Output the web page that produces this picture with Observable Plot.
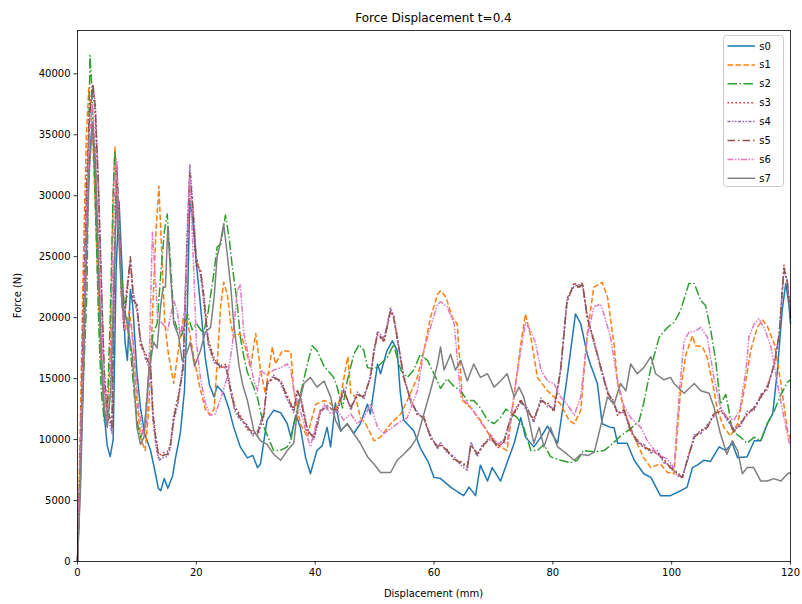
<!DOCTYPE html>
<html><head><meta charset="utf-8">
<script src="https://cdn.jsdelivr.net/npm/d3@7"></script>
<script src="https://cdn.jsdelivr.net/npm/@observablehq/plot@0.6"></script>
<style>body{margin:0;background:#fff}#chart{width:802px;height:604px}</style>
</head><body><div id="chart"></div>
<script>
const seriesNames = ["s0","s1","s2","s3","s4","s5","s6","s7"];
const xTicks = [0,20,40,60,80,100,120];
const yTicks = [0,5000,10000,15000,20000,25000,30000,35000,40000];

const s0 = [[0,0],[0.5,7000],[1,17000],[1.5,27000],[2,33000],[2.5,36000],[3,31000],[3.5,24000],[4,17000],[4.5,12000],[5,9500],[5.5,8600],[6,10000],[6.5,24000],[7,29500],[7.5,24000],[8,18000],[8.4,16500],[8.9,22300],[9.3,21000],[10,15500],[10.6,12600],[11.3,10500],[12.3,9100],[13,7500],[13.6,6000],[14,5800],[14.6,6800],[15.2,6000],[16,7000],[16.5,8500],[17.3,10500],[18,14000],[18.5,21000],[18.9,29700],[19.5,27500],[20,24500],[20.7,21000],[21.5,16700],[22.2,14500],[23,13500],[23.5,14400],[24.6,13800],[25.5,12500],[26.3,11000],[27.4,9400],[28.6,8500],[29.5,8700],[30.3,7700],[30.8,8000],[31.9,11600],[33,12400],[34.2,12200],[35.3,11300],[35.9,10200],[36.8,12000],[37.5,11000],[38.4,8500],[39.2,7200],[40.3,9100],[41.2,9500],[42,11000],[42.6,9400],[43.4,13000],[44.3,10700],[45.4,11300],[46.5,10500],[47.6,11300],[48.8,12900],[49.3,12100],[50.5,16200],[51,15400],[52.1,17300],[53,18100],[53.8,17300],[54.3,14000],[54.9,11600],[56.6,10700],[57.7,9300],[59,8200],[60,6900],[61.1,6800],[62.8,6100],[64,5700],[65,5400],[65.9,6100],[67,5400],[67.8,7900],[69,6600],[69.8,7700],[71.2,6600],[72.6,8500],[73.5,9700],[74.6,11800],[75.4,10200],[76.8,9400],[78,10200],[79.1,11100],[80.2,10200],[80.8,9700],[81.3,11300],[82.4,15100],[83.3,18400],[83.8,20300],[84.7,19500],[85.8,17000],[86.3,16200],[87.5,14600],[88.3,11300],[89.7,11000],[90.3,11000],[90.9,9700],[92.5,9700],[93.7,8300],[95.3,7200],[96.5,6900],[98.1,5400],[99.8,5400],[101.5,5800],[102.6,6100],[103.5,7700],[104.3,7900],[105.4,8300],[106.5,8200],[108,9400],[109.1,9100],[110.2,9700],[111.1,8500],[112.7,8600],[113.9,9900],[115,9900],[116.1,11300],[117,12100],[117.8,15700],[118.6,20600],[119.2,22800],[119.7,21200],[120,19500]];

const s1 = [[0,0],[0.5,12000],[1,25000],[1.5,35000],[1.9,38800],[2.5,35500],[3,29000],[3.5,22000],[4,16000],[4.5,12500],[5,11500],[5.5,17000],[6,30000],[6.3,34000],[7,27000],[7.5,22000],[8,19000],[8.7,20500],[9.3,18500],[10,13000],[10.7,10000],[11.4,9100],[12,12500],[12.6,20000],[13.2,27000],[13.7,30800],[14.2,25000],[14.7,19500],[15.3,17000],[16.2,14600],[17,17500],[17.9,20300],[18.6,19500],[19.5,17000],[20.5,14500],[21.5,12500],[22.3,12000],[23,12500],[23.6,17000],[24.1,21000],[24.6,22900],[25.2,22000],[25.8,19500],[26.3,18400],[27.4,18700],[28.3,17500],[29.1,15900],[30,18700],[30.8,15700],[31.6,13800],[32.8,17600],[33.3,16200],[34.5,17300],[35.9,17200],[36.4,14000],[37.5,11300],[38.7,10200],[39.2,11300],[40.1,12900],[41.5,13200],[42.5,13000],[43.5,12500],[44.3,13500],[45,15500],[45.5,16800],[46,13800],[46.8,13500],[47.6,11800],[48.5,11300],[49.9,9900],[51,10200],[52.7,11300],[54.4,12100],[55.5,13200],[57.2,15100],[58.3,17300],[59.4,20000],[60.6,21900],[61.1,22200],[62,21700],[63.1,20000],[63.9,19500],[64.8,13200],[66.2,12600],[67.8,11600],[69.5,10200],[71.2,9400],[72.3,9100],[73.5,13700],[74.6,17800],[75.4,20300],[76.3,18400],[77.4,15100],[79.1,14000],[80.2,13500],[81.3,12900],[82.7,11600],[83.6,11300],[84.7,12400],[85.8,18700],[86.9,22500],[88.3,22900],[89.2,21700],[90.3,17800],[90.9,14600],[92,12400],[93.7,10200],[95.3,8500],[96.5,7700],[98.1,8000],[99.3,7300],[100.4,7200],[101.5,14000],[102.4,17000],[103.5,18500],[104,17700],[105.2,17600],[106,16700],[106.9,14600],[107.7,12400],[108.8,11000],[109.9,10300],[111.1,11300],[112.2,14000],[113.3,17300],[114.4,19200],[115.3,19800],[116.1,19300],[117.3,17800],[118.4,14600],[119.5,10700],[120,10000]];

const s2 = [[0,0],[0.2,3100],[0.5,8000],[1,15000],[1.6,22200],[1.9,35000],[2.1,41500],[2.4,39000],[2.8,33000],[3.2,26000],[3.6,19000],[4,14000],[4.5,11500],[5,12000],[5.5,20000],[6,30000],[6.3,33700],[6.8,29000],[7.3,24000],[8,20500],[8.8,18000],[9.5,14000],[10,11500],[10.6,10200],[11.3,11000],[12,15500],[12.7,18700],[13.4,19500],[14,23500],[14.6,27000],[15.1,28500],[15.6,25000],[16.2,20000],[16.8,19000],[17.5,18500],[18.5,20300],[19.3,19000],[20,19500],[21.2,18700],[22,20500],[23,23800],[23.5,25800],[24.1,26000],[24.9,28400],[25.5,26600],[26,24400],[26.9,21100],[27.4,18400],[28,16800],[28.6,15500],[29.5,14500],[30.3,13400],[31.4,11000],[33,9100],[34.1,9100],[35.3,9400],[35.9,9900],[36.4,11300],[37.5,13700],[38.7,16200],[39.5,17700],[40.3,17300],[41.5,16000],[42.6,15400],[43.1,15100],[43.7,14300],[44.6,12600],[45.4,14800],[46.5,17000],[47.4,17800],[48.2,17300],[48.8,15900],[50,15800],[51,16200],[52.1,16700],[53.2,17800],[54.4,15700],[55.5,15100],[56.6,15700],[57.7,17000],[58.9,16500],[60,15400],[61.1,14200],[62.2,15000],[63.3,14400],[64.5,14000],[65.6,13200],[66.7,13200],[67.8,12600],[69,11600],[70.1,11300],[71.2,11800],[72.1,12500],[73,12200],[74,11800],[75.1,11000],[76.3,9100],[77.4,9100],[78.5,9600],[79.6,8600],[81.3,8300],[83,8100],[84.1,8300],[85.2,9100],[86.9,9000],[88.6,9100],[89.7,9500],[91.4,10300],[93.1,10900],[94.5,11500],[95.3,13000],[96.5,15900],[97.9,18400],[99.3,19200],[100.4,19600],[101.5,20600],[102.9,22800],[103.8,22800],[104.9,21400],[105.7,21000],[106.6,18900],[107.4,16500],[108.2,12900],[109.1,13700],[109.6,12500],[110.2,10700],[111.6,10200],[112.7,9700],[113.9,10200],[115,9900],[116.1,11300],[117.3,12400],[118.4,13700],[119.5,14700],[120,14900]];

const s3 = [[0,0],[0.5,9500],[1,20500],[1.5,30500],[2,37000],[2.6,38800],[3,36500],[3.5,30500],[4,22500],[4.5,15800],[5,12300],[5.4,11800],[5.8,11200],[6.2,24500],[6.6,32000],[7,27500],[7.4,21800],[7.8,19500],[8.3,21800],[8.9,24800],[9.4,21200],[10,21200],[10.6,17700],[11.5,17000],[12.3,16200],[12.7,12300],[13.2,10200],[13.7,8700],[14.3,8900],[15.1,9000],[15.6,9500],[16.2,12000],[17,13700],[17.8,15800],[18.3,23500],[18.9,31400],[19.4,28700],[20,24200],[20.7,24000],[21.2,22200],[22,18200],[23,16700],[24,15800],[25,16200],[25.8,14200],[26.5,12700],[27.4,12000],[28.6,10800],[29.5,10700],[30.3,10300],[31.4,12000],[31.9,14700],[33,15000],[34.2,14900],[35.3,13600],[36.4,12500],[37,14100],[37.5,13400],[38.7,10600],[39.8,10300],[40.9,12500],[42,12500],[43.7,12500],[44.8,13900],[46,12700],[47.1,13600],[48.2,13600],[49.3,15000],[49.9,17400],[50.5,18600],[51.6,18000],[52.7,20500],[53.2,20100],[53.8,18500],[54.9,15000],[56.1,13300],[57.2,12000],[58.3,11900],[59.4,10100],[60.6,9500],[61.1,9500],[62.2,9200],[63.4,8300],[64.5,8200],[65.6,7800],[66.2,9500],[67.3,8900],[68.1,9300],[69.5,10300],[70.7,9300],[71.8,9900],[72.9,11700],[74,12500],[74.6,13300],[75.7,12300],[76.8,11700],[78,13100],[79.1,13000],[80.2,12300],[81.3,15800],[82.4,21300],[83.6,22900],[84.4,22400],[85,22900],[85.8,19900],[86.9,18200],[88,15900],[89.2,13900],[90.3,13100],[90.9,12000],[92,12500],[93.1,10600],[94.2,10000],[95.3,9300],[96.5,9200],[97.6,8800],[98.7,8400],[99.8,7600],[101,7300],[101.8,6800],[102.6,8400],[103.8,10100],[104.9,10800],[106,10900],[107.1,12200],[108.2,12300],[109.3,11900],[110.5,10600],[111.6,11400],[112.7,12000],[113.9,12700],[115,13400],[116.1,14400],[117.3,16100],[118.1,18800],[118.9,24300],[119.5,22600],[120,20100]];

const s4 = [[0,0],[0.5,8500],[1,19500],[1.5,29500],[2,36000],[2.6,39000],[3,37500],[3.5,31500],[4,23500],[4.5,15000],[5,11800],[5.4,11500],[5.8,10500],[6.2,23000],[6.6,32800],[7,28500],[7.4,22500],[7.8,19000],[8.3,22500],[8.9,24500],[9.4,22000],[10,20500],[10.6,18300],[11.5,16500],[12.3,15700],[12.7,11500],[13.2,9500],[13.7,8300],[14.3,8500],[15.1,8600],[15.6,9200],[16.2,11500],[17,13200],[17.8,16500],[18.3,25000],[18.9,32600],[19.4,29500],[20,25000],[20.7,23500],[21.2,21500],[22,17800],[23,16300],[24,16200],[25,15800],[25.8,13800],[26.5,12300],[27.4,11600],[28.6,11200],[29.5,10300],[30.3,10700],[31.4,12300],[31.9,14400],[33,15300],[34.2,14600],[35.3,13300],[36.4,12200],[37,13800],[37.5,13700],[38.7,10900],[39.8,10000],[40.9,12200],[42,12800],[43.7,12200],[44.8,14200],[46,12400],[47.1,13900],[48.2,13300],[49.3,15300],[49.9,17000],[50.5,18900],[51.6,18300],[52.7,20800],[53.2,20200],[53.8,18200],[54.9,15300],[56.1,13000],[57.2,12300],[58.3,11600],[59.4,10400],[60.6,9200],[61.1,9800],[62.2,8900],[63.4,8600],[64.5,7900],[65.6,7500],[66.2,9800],[67.3,8600],[68.1,9600],[69.5,10000],[70.7,9600],[71.8,10000],[72.9,11600],[74,12800],[74.6,13000],[75.7,12600],[76.8,11400],[78,13400],[79.1,12700],[80.2,12600],[81.3,15500],[82.4,21600],[83.6,22600],[84.4,22700],[85,22600],[85.8,20200],[86.9,17900],[88,16200],[89.2,14000],[90.3,12800],[90.9,12300],[92,12200],[93.1,10900],[94.2,9700],[95.3,9600],[96.5,8900],[97.6,9100],[98.7,8100],[99.8,7900],[101,7000],[101.8,7100],[102.6,8100],[103.8,10400],[104.9,10500],[106,11200],[107.1,11900],[108.2,12600],[109.3,11600],[110.5,10900],[111.6,11100],[112.7,12300],[113.9,12400],[115,13700],[116.1,14100],[117.3,16400],[118.1,18500],[118.9,23800],[119.5,23000],[120,19800]];

const s5 = [[0,0],[0.5,9000],[1,20000],[1.5,30000],[2,36500],[2.6,39200],[3,37000],[3.5,31000],[4,23000],[4.5,15500],[5,12000],[5.3,12100],[5.8,11000],[6.2,24000],[6.6,32500],[7,28000],[7.4,22000],[7.8,19200],[8.3,22000],[8.9,25000],[9.4,21500],[10,21000],[10.6,18000],[11.5,16800],[12.3,16000],[12.7,12000],[13.2,10000],[13.7,8500],[14.3,8700],[15.1,8800],[15.6,9400],[16.2,11800],[17,13500],[17.8,16000],[18.3,24000],[18.9,31800],[19.4,29000],[20,24500],[20.7,23800],[21.2,22000],[22,18000],[23,16500],[24,16000],[25,16000],[25.8,14000],[26.5,12500],[27.4,11800],[28.6,11000],[29.5,10500],[30.3,10500],[31.4,12100],[31.9,14600],[33,15100],[34.2,14800],[35.3,13500],[36.4,12400],[37,14000],[37.5,13500],[38.7,10700],[39.8,10200],[40.9,12400],[42,12600],[43.7,12400],[44.8,14000],[46,12600],[47.1,13700],[48.2,13500],[49.3,15100],[49.9,17300],[50.5,18700],[51.6,18100],[52.7,20600],[53.2,20000],[53.8,18400],[54.9,15100],[56.1,13200],[57.2,12100],[58.3,11800],[59.4,10200],[60.6,9400],[61.1,9600],[62.2,9100],[63.4,8400],[64.5,8100],[65.6,7700],[66.2,9600],[67.3,8800],[68.1,9400],[69.5,10200],[70.7,9400],[71.8,9800],[72.9,11800],[74,12600],[74.6,13200],[75.7,12400],[76.8,11600],[78,13200],[79.1,12900],[80.2,12400],[81.3,15700],[82.4,21400],[83.6,22800],[84.4,22500],[85,22800],[85.8,20000],[86.9,18100],[88,16000],[89.2,13800],[90.3,13000],[90.9,12100],[92,12400],[93.1,10700],[94.2,9900],[95.3,9400],[96.5,9100],[97.6,8900],[98.7,8300],[99.8,7700],[101,7200],[101.8,6900],[102.6,8300],[103.8,10200],[104.9,10700],[106,11000],[107.1,12100],[108.2,12400],[109.3,11800],[110.5,10700],[111.6,11300],[112.7,12100],[113.9,12600],[115,13500],[116.1,14300],[117.3,16200],[118.1,18700],[118.9,24100],[119.5,22800],[120,20000]];

const s6 = [[0,0],[0.5,9000],[1,18000],[1.5,28000],[2,35000],[2.5,37500],[3,34000],[3.5,27000],[4,20000],[4.5,14000],[5,11500],[5.5,13500],[6,27000],[6.5,33000],[7,27000],[7.5,21000],[8,19000],[9,19500],[9.7,16000],[10.3,12500],[11,10500],[11.6,11000],[12.1,17000],[12.6,27000],[13,24000],[13.5,20000],[14.3,19500],[15.2,19000],[16.2,21400],[16.8,20500],[17.3,18500],[18,20000],[18.5,26000],[18.9,31500],[19.4,26000],[20,18000],[20.7,15000],[21.5,13000],[22.3,12000],[23.2,12100],[24.2,13500],[25.2,15100],[26,17500],[26.9,22200],[27.4,22700],[28,18700],[28.6,17300],[29.7,14800],[30.3,14000],[30.8,15700],[31.8,15300],[33,15700],[34.2,15900],[35.3,16200],[35.9,15700],[36.4,14000],[37.5,12400],[38.7,10200],[39.2,9400],[40.3,11600],[41.5,12900],[42.6,12100],[43.7,12400],[44.8,11600],[46,12100],[47.1,11300],[48.2,11800],[49.3,12900],[50.5,11000],[51.6,10500],[53,11000],[54.4,11500],[55.5,11800],[57.2,14000],[58.3,17300],[59.4,19200],[60.6,21100],[61.1,21300],[62.2,20900],[63.4,19500],[64.5,13500],[66.2,12700],[67.3,11800],[69,10700],[70.7,9700],[72.3,9700],[73.5,13800],[74.6,17300],[75.4,19600],[76.3,18900],[77.1,17900],[78,15700],[79.1,14800],[80.2,14600],[81.3,13500],[82.4,12900],[83.6,12000],[84.7,13500],[85.8,18400],[86.9,20900],[88,21100],[88.6,20300],[89.7,18400],[90.9,14800],[92,12700],[93.1,11800],[94.8,11000],[95.9,9900],[97.6,8800],[99.3,8400],[100.4,7700],[101.3,14000],[102.1,18100],[102.9,18800],[104,18900],[104.9,19200],[106,18400],[107.1,15100],[108.2,12700],[109.3,11800],[110.5,11600],[111.5,12500],[112.5,15700],[113,18400],[113.9,19500],[114.7,19900],[115.8,18900],[116.7,17600],[117.8,14600],[118.9,11800],[119.7,9900],[120,9500]];

const s7 = [[0,0],[0.5,6000],[1,15000],[1.5,25000],[2,32000],[2.5,36000],[3,33000],[3.5,25000],[4,17000],[4.5,12500],[5,11000],[5.6,14000],[6.1,22500],[6.6,30000],[7,26000],[7.5,21000],[8.4,19500],[9.2,17000],[10,11000],[10.6,9600],[11.2,10200],[12,15500],[12.8,18000],[13.4,17500],[14,21000],[14.4,22500],[14.8,22500],[15.2,27500],[15.6,24000],[16.2,19500],[17,18500],[17.6,16500],[18.3,17000],[19,18000],[19.7,16000],[20.7,17300],[21.5,18800],[22.4,19200],[23,21700],[23.5,25000],[24.1,26300],[24.6,27700],[25.2,25200],[25.8,22500],[26.3,19500],[27.2,16000],[27.8,14500],[28.6,13200],[29.7,10700],[30.8,9900],[31.9,9600],[33,8800],[34.2,8300],[35.3,9100],[36.4,9700],[37,12400],[38.1,14600],[39.2,15100],[40.3,14300],[41.5,14800],[42.6,13500],[43.4,11600],[44.3,10700],[45.4,11300],[46.5,10500],[47.6,9700],[48.8,8600],[49.9,8000],[51,7300],[52.7,7300],[53.8,8300],[54.9,8800],[56.1,9400],[57.2,10200],[58.3,12100],[59.4,14000],[60.6,16200],[61.1,17600],[61.7,15700],[62.8,17000],[63.6,15700],[64.5,16500],[65.6,14800],[66.7,16200],[67.8,15100],[69,15400],[70.1,14300],[71.2,14800],[72.3,15400],[73.5,13500],[74.3,14300],[75.1,13500],[76,11600],[76.8,9700],[77.7,11000],[78.5,9400],[79.6,11000],[80.8,9400],[82.4,8800],[83.6,8300],[84.7,8800],[86,8700],[87,9000],[88,11000],[89.2,13500],[90.3,12900],[91.4,14600],[92.3,14000],[93.1,16200],[94.2,15400],[95.3,15900],[96.5,16800],[97.3,15400],[98.7,14900],[99.8,15100],[100.4,14600],[102.1,13800],[103.8,14600],[104.9,14000],[106.3,13800],[107.1,12700],[108.2,10500],[109.3,8800],[110.2,9900],[111.1,9100],[111.9,7200],[112.7,7700],[113.8,7700],[115,6600],[116.1,6600],[117.2,6800],[118.4,6600],[119.5,7200],[120,7300]];

const allSeries = [s0,s1,s2,s3,s4,s5,s6,s7];
const colors = ["#1f77b4","#ff7f0e","#2ca02c","#d62728","#9467bd","#8c564b","#e377c2","#7f7f7f"];
const dashes = [null,"5.55,2.4","9.6,2.4,1.5,2.4","1.5,2.475","3,1.5,1.5,1.5,1.5,1.5","7.5,3,1.5,3","6,1.5,1.5,1.5,1.5,1.5",null];

const font = "DejaVu Sans, sans-serif";
const lineMarks = allSeries.map((s,i) => Plot.line(s, {
  x: d => d[0], y: d => d[1], stroke: colors[i], strokeWidth: 1.5,
  strokeDasharray: dashes[i] || undefined, strokeLinejoin: "round", strokeLinecap: "butt"
}));

const svg = Plot.plot({
  width: 802, height: 604,
  marginTop: 30, marginRight: 12, marginBottom: 43, marginLeft: 77,
  style: {fontFamily: font, fontSize: "10px", color: "black", background: "white"},
  x: {domain: [0,120], label: null},
  y: {domain: [0,43550], label: null},
  marks: [
    ...lineMarks,
    Plot.frame({stroke: "black", strokeWidth: 0.8}),
    Plot.axisX({ticks: xTicks, tickFormat: d3.format("d"), tickSize: 3.5, tickPadding: 3.5, strokeWidth: 0.8, label: null, fontSize: 10}),
    Plot.axisY({ticks: yTicks, tickFormat: d3.format("d"), tickSize: 3.5, tickPadding: 3.5, strokeWidth: 0.8, label: null, fontSize: 10})
  ]
});
document.getElementById("chart").appendChild(svg);

const g = d3.select(svg).append("g").attr("font-family", font).attr("fill", "black");
g.append("text").attr("x", 433.5).attr("y", 22).attr("text-anchor", "middle").attr("font-size", 12).text("Force Displacement t=0.4");
g.append("text").attr("x", 433.5).attr("y", 597).attr("text-anchor", "middle").attr("font-size", 10).text("Displacement (mm)");
g.append("text").attr("transform", "translate(21,295.5) rotate(-90)").attr("text-anchor", "middle").attr("font-size", 10).text("Force (N)");

const lg = d3.select(svg).append("g").attr("font-family", font);
lg.append("rect").attr("x", 723.5).attr("y", 35.5).attr("width", 60).attr("height", 151).attr("rx", 3)
  .attr("fill", "white").attr("fill-opacity", 0.8).attr("stroke", "#cccccc").attr("stroke-width", 1);
seriesNames.forEach((n,i) => {
  const y = 46 + i*18.9;
  lg.append("line").attr("x1", 727.5).attr("x2", 755).attr("y1", y).attr("y2", y)
    .attr("stroke", colors[i]).attr("stroke-width", 1.5).attr("stroke-dasharray", dashes[i]);
  lg.append("text").attr("x", 765).attr("y", y).attr("dy", "0.35em").attr("font-size", 10).attr("fill", "black").text(n);
});
</script></body></html>
